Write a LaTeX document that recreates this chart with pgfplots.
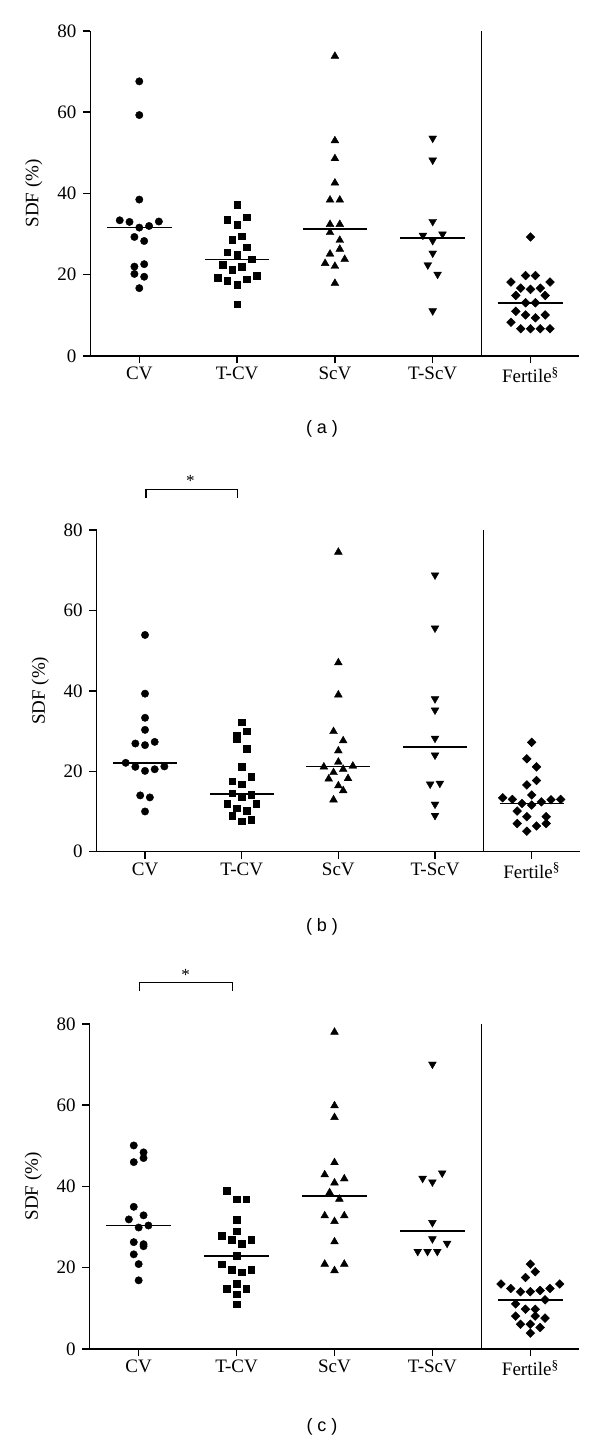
\documentclass[border=0pt]{standalone}
\usepackage{fontspec}
\setmainfont{Liberation Serif}
\newfontfamily\capfont{Liberation Sans}
\usepackage{pgfplots}
\pgfplotsset{compat=1.18}
\pgfplotsset{
  dotstyle/.style={
    scale only axis,
    xmin=-0.5, xmax=4.5, ymin=0, ymax=80,
    axis x line*=bottom, axis y line*=left,
    axis line style={line width=1.5pt},
    every tick/.style={line width=1.5pt, black},
    tick align=outside, major tick length=7.5pt,
    xtick={0,1,2,3,4},
    xticklabels={CV,T-CV,ScV,T-ScV,Fertile\textsuperscript{\S}},
    ytick={0,20,40,60,80},
    /pgf/number format/assume math mode=true,
    tick label style={font=\fontsize{19}{19}\selectfont},
    yticklabel style={xshift=-3pt},
    ylabel={SDF (\%)},
    ylabel shift=8pt,
    label style={font=\fontsize{19}{19}\selectfont},
    clip=false,
    anchor=south west,
  },
  cv/.style={only marks, mark=*, mark size=3.7pt, black},
  sq/.style={only marks, mark=square*, mark size=3.3pt, black},
  tu/.style={only marks, mark=triangle*, mark size=4.5pt, black},
  td/.style={only marks, mark=triangle*, mark size=4.5pt, black, mark options={rotate=180}},
  dm/.style={only marks, mark=square*, mark size=3.1pt, black, mark options={rotate=45}},
  med/.style={black, line width=1.5pt, no marks},
}
\begin{document}
\begin{tikzpicture}
\path[use as bounding box] (0,0) rectangle (600pt,1442pt);
% ---------------- panel (a)
\begin{axis}[dotstyle, at={(90.4pt,1086pt)}, width=489pt, height=325pt]
\addplot[cv] coordinates {(0,67.6) (0,59.3) (0,38.5) (-0.2,33.4) (-0.1,33.0) (0.2,33.1) (0.1,32.0) (0,31.6) (-0.05,29.3) (0.05,28.3) (-0.05,22.0) (0.05,22.6) (-0.05,20.2) (0.05,19.5) (0,16.7)};
\addplot[sq] coordinates {(1,37.3) (1.1,34.2) (0.9,33.5) (1,32.3) (1.05,29.5) (0.95,28.6) (1.1,26.8) (0.9,25.5) (1,25.0) (1.15,23.8) (0.85,22.5) (1.05,22.0) (0.95,21.3) (1.2,19.8) (0.8,19.3) (1.1,18.9) (0.9,18.5) (1,17.5) (1,12.7)};
\addplot[tu] coordinates {(2,73.8) (2,53.0) (2,48.6) (2,42.6) (1.95,38.4) (2.05,38.4) (1.95,32.4) (2.05,32.4) (1.95,30.4) (2.05,28.5) (2.05,26.3) (1.95,25.1) (2.1,23.8) (1.9,22.8) (2,22.1) (2,17.9)};
\addplot[td] coordinates {(3,53.6) (3,48.2) (3,33.1) (2.9,29.7) (3.1,30.0) (3,28.4) (3,25.3) (2.95,22.4) (3.05,20.1) (3,11.1)};
\addplot[dm] coordinates {(4,29.3) (3.95,19.8) (4.05,19.8) (3.8,18.2) (4.2,18.2) (3.9,16.7) (4.1,16.7) (4,16.4) (3.85,14.9) (4.15,14.9) (3.95,13.1) (4.05,13.1) (3.85,11.0) (3.95,10.1) (4.15,10.1) (4.05,9.4) (3.8,8.3) (3.9,6.7) (4,6.7) (4.1,6.7) (4.2,6.7)};
\addplot[med] coordinates {(-0.33,31.6) (0.33,31.6)};
\addplot[med] coordinates {(0.67,23.7) (1.33,23.7)};
\addplot[med] coordinates {(1.67,31.3) (2.33,31.3)};
\addplot[med] coordinates {(2.67,29.0) (3.33,29.0)};
\addplot[med] coordinates {(3.67,13.1) (4.33,13.1)};
\addplot[med] coordinates {(3.5,0) (3.5,80)};
\end{axis}
% ---------------- panel (b)
\begin{axis}[dotstyle, at={(96.7pt,590.3pt)}, width=483.3pt, height=321.7pt]
\addplot[cv] coordinates {(0,53.9) (0,39.3) (0,33.3) (0,30.3) (-0.1,26.9) (0.1,27.3) (0,26.5) (-0.2,22.1) (-0.1,21.1) (0.1,20.5) (0.2,21.2) (0,20.1) (-0.05,14.0) (0.05,13.5) (0,10.0)};
\addplot[sq] coordinates {(1,32.2) (1.05,30.0) (0.95,28.9) (0.95,28.1) (1.05,25.6) (1,21.1) (0.9,17.5) (1.1,18.6) (1,16.8) (0.9,14.5) (1,13.7) (1.1,14.1) (0.85,12.0) (1.15,12.0) (0.95,10.8) (1.05,10.2) (0.9,8.9) (1,7.6) (1.1,7.9)};
\addplot[tu] coordinates {(2,74.5) (2,47.0) (2,39.0) (1.95,29.9) (2.05,27.6) (2,25.1) (2,22.3) (1.85,21.1) (2.15,21.3) (2.05,20.5) (1.95,19.7) (1.9,18.1) (2.1,18.2) (2,16.4) (2.05,15.2) (1.95,12.9)};
\addplot[td] coordinates {(3,68.8) (3,55.6) (3,38.0) (3,35.2) (3,28.2) (3,24.0) (2.95,16.8) (3.05,17.0) (3,11.8) (3,9.0)};
\addplot[dm] coordinates {(4,27.2) (3.95,23.1) (4.05,21.1) (4.05,17.7) (3.95,16.6) (4,14.1) (3.7,13.4) (3.8,13.0) (4.2,12.9) (4.3,13.0) (3.9,12.0) (4.1,12.4) (4,11.6) (3.85,10.1) (3.95,8.7) (4.15,8.7) (3.85,7.0) (4.05,6.4) (4.15,7.0) (3.95,5.1)};
\addplot[med] coordinates {(-0.33,22.1) (0.33,22.1)};
\addplot[med] coordinates {(0.67,14.3) (1.33,14.3)};
\addplot[med] coordinates {(1.67,21.2) (2.33,21.2)};
\addplot[med] coordinates {(2.67,26.0) (3.33,26.0)};
\addplot[med] coordinates {(3.67,12.0) (4.33,12.0)};
\addplot[med] coordinates {(3.5,0) (3.5,80)};
\draw[line width=1.2pt] (axis cs:0.01,87.9) -- (axis cs:0.01,90.1) -- (axis cs:0.955,90.1) -- (axis cs:0.955,87.9);
\node[font=\fontsize{17}{17}\selectfont, anchor=base] at (axis cs:0.47,90.7) {*};
\end{axis}
% ---------------- panel (c)
\begin{axis}[dotstyle, at={(89.7pt,93pt)}, width=489.6pt, height=325pt]
\addplot[cv] coordinates {(-0.05,50.1) (0.05,48.4) (0.05,47.0) (-0.05,46.0) (-0.05,35.0) (0.05,32.9) (-0.1,31.9) (0,29.9) (0.1,30.4) (-0.05,26.3) (0.05,25.8) (0.05,25.3) (-0.05,23.3) (0,20.9) (0,16.9)};
\addplot[sq] coordinates {(0.9,39.0) (1,36.9) (1.1,36.9) (1,31.9) (1,29.0) (0.85,27.9) (0.95,26.9) (1.15,26.9) (1.05,25.9) (1,22.9) (0.85,20.9) (0.95,19.5) (1.05,18.9) (1.15,19.5) (1,16.0) (0.9,14.9) (1.1,14.9) (1,13.5) (1,11.0)};
\addplot[tu] coordinates {(2,78.0) (2,59.9) (2,57.0) (2,45.9) (1.9,42.9) (2.1,41.9) (2,40.9) (1.95,38.5) (2.05,36.9) (1.9,32.8) (2.1,32.8) (2,31.4) (2,26.4) (1.9,20.9) (2.1,20.9) (2,19.3)};
\addplot[td] coordinates {(3,70.1) (2.9,42.0) (3.1,43.3) (3,41.1) (3,31.1) (3,27.1) (3.15,26.0) (2.85,24.0) (2.95,24.0) (3.05,24.0)};
\addplot[dm] coordinates {(4,20.9) (4.05,19.0) (3.95,17.6) (3.7,16.0) (4.3,16.0) (3.8,14.9) (4.2,14.9) (3.9,14.1) (4,14.1) (4.1,14.4) (4.15,12.1) (3.85,11.1) (3.95,9.8) (4.05,9.8) (3.85,8.1) (4.05,8.1) (4.15,7.6) (3.9,6.1) (4,6.1) (4.1,5.3) (4,3.9)};
\addplot[med] coordinates {(-0.33,30.4) (0.33,30.4)};
\addplot[med] coordinates {(0.67,22.9) (1.33,22.9)};
\addplot[med] coordinates {(1.67,37.7) (2.33,37.7)};
\addplot[med] coordinates {(2.67,29.1) (3.33,29.1)};
\addplot[med] coordinates {(3.67,12.1) (4.33,12.1)};
\addplot[med] coordinates {(3.5,0) (3.5,80)};
\draw[line width=1.2pt] (axis cs:0.01,88.1) -- (axis cs:0.01,90.2) -- (axis cs:0.957,90.2) -- (axis cs:0.957,88.1);
\node[font=\fontsize{17}{17}\selectfont, anchor=base] at (axis cs:0.48,90.6) {*};
\end{axis}
% captions
\node[font=\capfont\fontsize{18}{18}\selectfont] at (322pt,1013pt) {( a )};
\node[font=\capfont\fontsize{18}{18}\selectfont] at (322pt,515pt) {( b )};
\node[font=\capfont\fontsize{18}{18}\selectfont] at (322pt,15pt) {( c )};
\end{tikzpicture}
\end{document}
